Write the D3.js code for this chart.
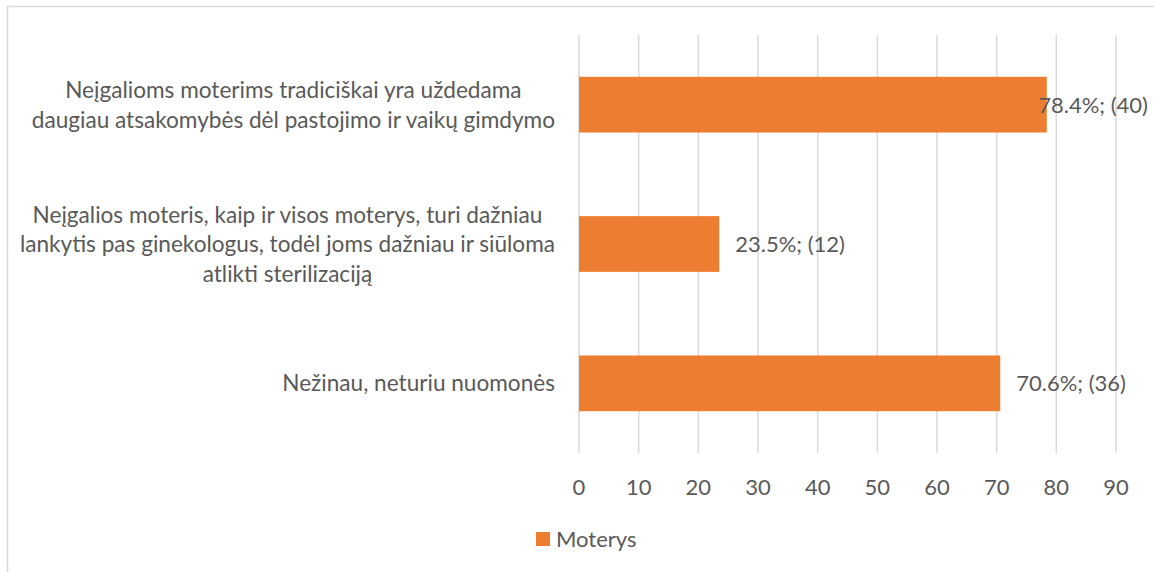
<!DOCTYPE html>
<html>
<head>
<meta charset="utf-8">
<script src="https://cdn.jsdelivr.net/npm/d3@7"></script>
<style>
  body { margin: 0; background: #fff; }
  text { font-family: Lato, "Open Sans", sans-serif; fill: #595959; font-size: 22px; }
  text.cat { font-size: 22.6px; }
</style>
</head>
<body>
<svg id="chart" width="1154" height="572"></svg>
<script>
// data
var categories = [
	"Neįgalioms moterims tradiciškai yra uždedama\ndaugiau atsakomybės dėl pastojimo ir vaikų gimdymo",
	"Neįgalios moteris, kaip ir visos moterys, turi dažniau\nlankytis pas ginekologus, todėl joms dažniau ir siūloma\natlikti sterilizaciją",
	"Nežinau, neturiu nuomonės"
];
var percents = [78.4, 23.5, 70.6];
var counts = [40, 12, 36];
var xTicks = [0, 10, 20, 30, 40, 50, 60, 70, 80, 90];
var seriesName = "Moterys";

var orange = "#ED7D31";
var grid = "#d9d9d9";

var svg = d3.select("#chart");

// chart area border
svg.append("rect")
	.attr("x", 7.5).attr("y", 6.5)
	.attr("width", 1200).attr("height", 700)
	.attr("fill", "none")
	.attr("stroke", grid)
	.attr("stroke-width", 1.5);

var x = d3.scaleLinear().domain([0, 90]).range([579, 1116]);
var y = d3.scaleBand().domain(d3.range(categories.length)).range([35, 453])
	.paddingInner(0.6).paddingOuter(0.3);

// gridlines
svg.append("g").selectAll("line")
	.data(xTicks)
	.enter().append("line")
	.attr("x1", function(d){ return x(d); })
	.attr("x2", function(d){ return x(d); })
	.attr("y1", 35).attr("y2", 453)
	.attr("stroke", grid)
	.attr("stroke-width", 1.5);

// tick labels
svg.append("g").selectAll("text")
	.data(xTicks)
	.enter().append("text")
	.attr("x", function(d){ return x(d); })
	.attr("y", 487)
	.attr("dy", "0.36em")
	.attr("text-anchor", "middle")
	.text(function(d){ return d; });

// bars
svg.append("g").selectAll("rect")
	.data(percents)
	.enter().append("rect")
	.attr("x", x(0))
	.attr("y", function(d, i){ return y(i); })
	.attr("width", function(d){ return x(d) - x(0); })
	.attr("height", y.bandwidth())
	.attr("fill", orange);

// value labels, pushed back inside the chart when they would run off
var labelRight = 1148;
svg.append("g").selectAll("text")
	.data(percents)
	.enter().append("text")
	.attr("y", function(d, i){ return y(i) + y.bandwidth() / 2; })
	.attr("dy", "0.36em")
	.text(function(d, i){ return d.toFixed(1) + "%; (" + counts[i] + ")"; })
	.attr("x", function(d){
		var w = this.getComputedTextLength();
		return Math.min(x(d) + 16, labelRight - w);
	});

// category labels: lines centred in a block that is right aligned to the axis
var labelEdge = 555;
var lineH = 29.5;
categories.forEach(function(c, i){
	var lines = c.split("\n");
	var cy = y(i) + y.bandwidth() / 2;
	var t = svg.append("text")
		.attr("class", "cat")
		.attr("text-anchor", "middle");
	var spans = t.selectAll("tspan")
		.data(lines)
		.enter().append("tspan")
		.attr("y", function(d, j){ return cy + (j - (lines.length - 1) / 2) * lineH; })
		.attr("dy", "0.36em")
		.text(function(d){ return d; });
	var maxW = 0;
	spans.each(function(){ maxW = Math.max(maxW, this.getComputedTextLength()); });
	spans.attr("x", labelEdge - maxW / 2);
});

// legend
svg.append("rect")
	.attr("x", 536).attr("y", 532)
	.attr("width", 14).attr("height", 14)
	.attr("fill", orange);
svg.append("text")
	.attr("x", 556).attr("y", 539)
	.attr("dy", "0.36em")
	.text(seriesName);
</script>
</body>
</html>
